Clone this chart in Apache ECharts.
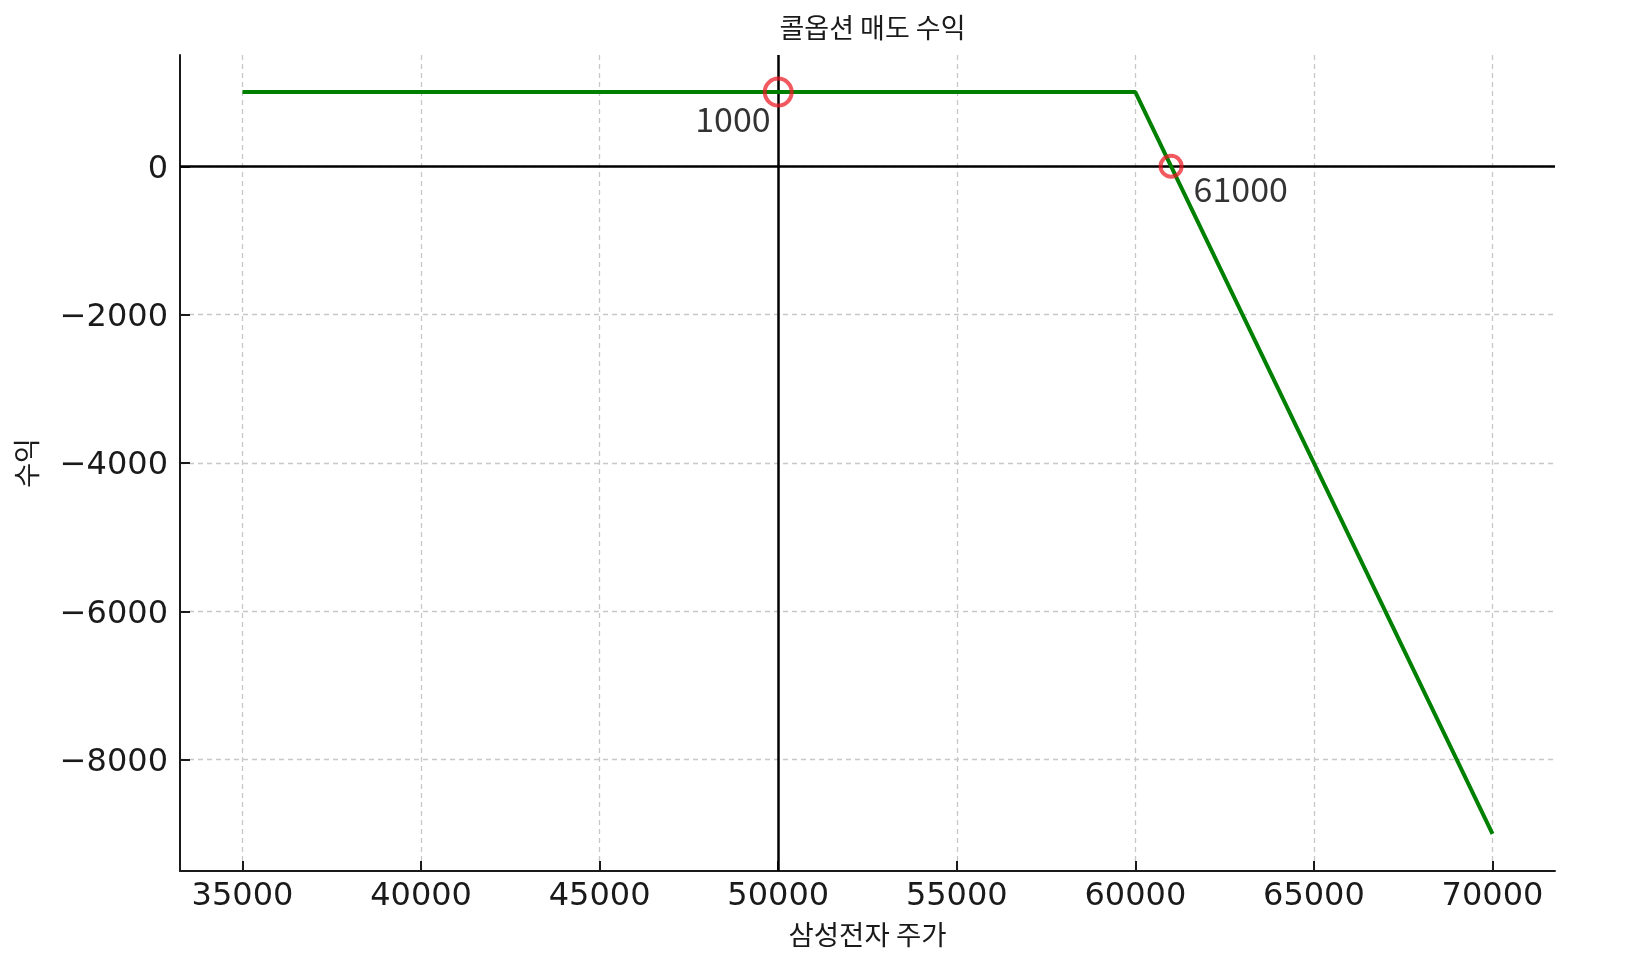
<!DOCTYPE html>
<html>
<head>
<meta charset="utf-8">
<script src="https://cdn.jsdelivr.net/npm/echarts@6/dist/echarts.min.js"></script>
<style>
html,body{margin:0;padding:0;background:#fff;}
#chart{width:1647px;height:979px;}
</style>
</head>
<body>
<div id="chart"></div>
<script>
// ---- data ----
const titleText = '콜옵션 매도 수익';
const xAxisName = '삼성전자 주가';
const yAxisName = '수익';
const prices = [35000, 60000, 70000];      // stock price breakpoints
const profits = [1000, 1000, -9000];       // short call payoff
const xTicks = [35000, 40000, 45000, 50000, 55000, 60000, 65000, 70000];
const yTicks = [-8000, -6000, -4000, -2000, 0];
const xRange = [33250, 71750];
const yRange = [-9500, 1500];
const refX = 50000;                        // vertical reference line
const refY = 0;                            // horizontal reference line
const maxProfitPoint = [50000, 1000];      // annotated premium
const breakEvenPoint = [61000, 0];         // annotated break-even

const lineData = prices.map((p, i) => [p, profits[i]]);
const fmtMinus = v => String(v).replace('-', '\u2212');
const tickFont = 'DejaVu Sans';
const krFont = '"Noto Sans CJK KR"';

const W = 1647, gridL = 180, gridR = 92;
const chart = echarts.init(document.getElementById('chart'), null, {renderer: 'canvas'});
chart.setOption({
  animation: false,
  backgroundColor: '#ffffff',
  title: {
    text: titleText,
    left: gridL + (W - gridL - gridR) / 2,
    textAlign: 'center',
    top: 8,
    textStyle: {fontFamily: krFont, fontSize: 27, fontWeight: 'normal', color: '#1a1a1a', lineHeight: 30}
  },
  grid: {left: gridL, right: gridR, top: 55, bottom: 108, containLabel: false},
  xAxis: {
    type: 'value',
    min: xRange[0], max: xRange[1],
    name: xAxisName,
    nameLocation: 'middle',
    nameGap: 50,
    nameTextStyle: {fontFamily: krFont, fontSize: 27.5, color: '#1a1a1a'},
    axisLine: {show: true, onZero: false, lineStyle: {color: '#1a1a1a', width: 2}},
    axisTick: {show: true, inside: true, length: 10, customValues: xTicks, lineStyle: {color: '#1a1a1a', width: 2}},
    axisLabel: {customValues: xTicks, margin: 10, fontFamily: tickFont, fontSize: 32, color: '#1a1a1a', formatter: v => fmtMinus(v)},
    splitLine: {show: true, lineStyle: {color: '#c8c8c8', width: 1.3, type: [5, 4]}}
  },
  yAxis: {
    type: 'value',
    min: yRange[0], max: yRange[1],
    name: yAxisName,
    nameLocation: 'middle',
    nameGap: 140,
    nameRotate: 90,
    nameTextStyle: {fontFamily: krFont, fontSize: 27, color: '#1a1a1a'},
    axisLine: {show: true, onZero: false, lineStyle: {color: '#1a1a1a', width: 2}},
    axisTick: {show: true, inside: true, length: 10, customValues: yTicks, lineStyle: {color: '#1a1a1a', width: 2}},
    axisLabel: {
      customValues: yTicks, margin: 12,
      formatter: v => '{t|' + fmtMinus(v) + '}',
      rich: {t: {fontFamily: tickFont, fontSize: 32, color: '#1a1a1a', padding: [6, 0, 0, 0]}}
    },
    splitLine: {show: true, lineStyle: {color: '#c8c8c8', width: 1.3, type: [5, 4]}}
  },
  series: [
    {
      type: 'line',
      data: lineData,
      showSymbol: false,
      symbol: 'none',
      lineStyle: {color: '#008000', width: 4},
      z: 3,
      markLine: {
        silent: true,
        symbol: ['none', 'none'],
        label: {show: false},
        lineStyle: {color: '#000000', width: 2.5, type: 'solid'},
        z: 2,
        data: [{yAxis: refY}, {xAxis: refX}]
      }
    },
    {
      type: 'scatter',
      z: 5,
      data: [{value: maxProfitPoint}],
      symbol: 'circle',
      symbolSize: 27,
      itemStyle: {color: 'rgba(0,0,0,0)', borderColor: 'rgba(236,24,34,0.9)', borderWidth: 4},
      label: {
        show: true,
        formatter: p => String(p.value[1]),
        position: [8, 42],
        align: 'right',
        verticalAlign: 'middle',
        fontFamily: krFont, fontSize: 34, color: '#000000'
      }
    },
    {
      type: 'scatter',
      z: 5,
      data: [{value: breakEvenPoint}],
      symbol: 'circle',
      symbolSize: 21,
      itemStyle: {color: 'rgba(0,0,0,0)', borderColor: 'rgba(236,24,34,0.9)', borderWidth: 4},
      label: {
        show: true,
        formatter: p => String(p.value[0]),
        position: [35, 35],
        align: 'left',
        verticalAlign: 'middle',
        fontFamily: krFont, fontSize: 34, color: '#000000'
      }
    }
  ]
});
</script>
</body>
</html>
